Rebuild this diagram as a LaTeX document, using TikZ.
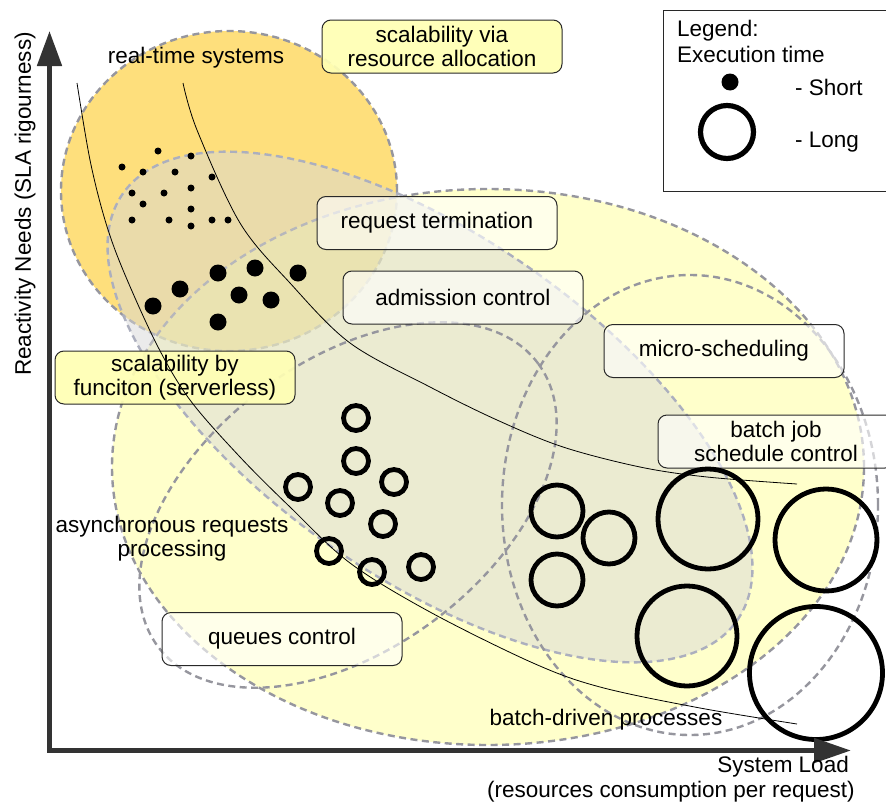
\documentclass[tikz,border=0pt]{standalone}
\usepackage{fontspec}
\setmainfont{Liberation Sans}
\usetikzlibrary{arrows.meta}

\definecolor{rtorange}{RGB}{254,223,124}
\definecolor{scaleyellow}{RGB}{255,255,153}
\definecolor{regiongray}{RGB}{216,216,216}
\definecolor{edgegray}{RGB}{150,150,158}
\definecolor{softedge}{RGB}{172,175,190}
\definecolor{axisgray}{RGB}{51,51,51}
\definecolor{tagyellow}{RGB}{255,255,180}
\definecolor{boxedge}{RGB}{40,40,40}

\tikzset{
  zone/.style={draw=edgegray, line width=2.4pt, dash pattern=on 7pt off 4.5pt},
  labelbox/.style={draw=boxedge, line width=1pt, rounded corners=9pt,
    fill=white, fill opacity=0.6, text opacity=1,
    minimum width=240pt, minimum height=53pt, inner sep=0pt, align=center},
  yellowbox/.style={labelbox, fill=tagyellow, fill opacity=0.92, text opacity=1},
  txt/.style={inner sep=0pt, align=center},
  shortdot/.style={circle, fill=black, inner sep=0pt, minimum size=7pt},
  middot/.style={circle, fill=black, inner sep=0pt, minimum size=17pt},
  jobring/.style={circle, draw=black, line width=4.8pt, inner sep=0pt},
  bound/.style={draw=black, line width=0.8pt},
  axisline/.style={draw=axisgray, line width=5pt,
    {Triangle[length=35pt,width=24pt]}-{Triangle[length=37pt,width=24pt]}},
}

\begin{document}
\begin{tikzpicture}[x=1pt, y=-1pt, font=\fontsize{22.5}{24}\selectfont]
\useasboundingbox (0,0) rectangle (886,803);
\clip (0,0) rectangle (886,803);
\fill[white] (0,0) rectangle (886,803);

% overlapping regions
\draw[zone, fill=rtorange] (229,191) ellipse [x radius=168pt, y radius=160pt];
\draw[zone, fill=scaleyellow, fill opacity=0.5] (488,467) ellipse [x radius=376pt, y radius=278pt];
\draw[zone, draw=softedge, fill=regiongray, fill opacity=0.5, rotate around={-34.75:(430,407)}]
  (430,407) ellipse [x radius=374pt, y radius=171pt];
\draw[zone, rotate around={36.7:(348,505)}] (348,505) ellipse [x radius=237pt, y radius=144pt];
\draw[zone] (690,505) ellipse [x radius=188pt, y radius=230pt];

% region labels
\node[yellowbox] (scalealloc) at (442,46.5) {scalability via\\resource allocation};
\node[labelbox] (reqterm) at (437,223) {request termination};
\node[labelbox] (admit) at (463,297.5) {admission control};
\node[labelbox] (micro) at (724,351) {micro-scheduling};
\node[labelbox, minimum width=236pt] (batchjob) at (776,441.5) {batch job\\schedule control};
\node[labelbox] (queues) at (282,639) {queues control};
\node[yellowbox] (serverless) at (175,377.5) {scalability by\\funciton (serverless)};

\node[txt, anchor=base] (realtime) at (196,63) {real-time systems};
\node[txt] (async) at (172,539) {asynchronous requests\\processing};
\node[txt, anchor=base] (batchdriven) at (606,725) {batch-driven processes};

% boundary curves
\draw[bound] plot[smooth, tension=0.55] coordinates {(77,83) (90,160) (105,220) (123,270) (157,345)
  (190,400) (240,457) (290,507) (350,563) (430,612) (533,663) (600,687) (700,708) (797,724)};
\draw[bound] plot[smooth, tension=0.55] coordinates {(183,83) (197,130) (240,223) (290,283) (350,343)
  (430,387) (497,420) (563,447) (640,467) (707,477) (797,484)};

% short jobs
\foreach \x/\y [count=\i] in {158/151,191/156,122/167,143/172,175/172,212/177,132/193,164/193,
  191/188,143/204,191/209,132/220,169/220,212/220,228/220,191/226}
  \node[shortdot] (sd\i) at (\x,\y) {};
\foreach \x/\y [count=\i] in {153/306,180/289,218/273,255/268,298/273,239/295,271/300,218/322}
  \node[middot] (md\i) at (\x,\y) {};

% longer jobs
\foreach \x/\y [count=\i] in {356/418,356/461,298/487,394/482,340/503,383/524,329/551,372/572,421/567}
  \node[jobring, minimum size=25pt] (mr\i) at (\x,\y) {};
\foreach \x/\y/\d [count=\i] in {557/511/52,609/538/52,557/580/52,708/519/100,826/540/102,687/636/100,816/673/133}
  \node[jobring, minimum size=\d pt] (lr\i) at (\x,\y) {};

% legend
\node[draw=boxedge, line width=1.4pt, anchor=north west, minimum width=240pt, minimum height=181pt,
  inner sep=0pt] (legend) at (663,10) {};
\node[txt, anchor=base west] (legtitle) at (677,36) {Legend:};
\node[txt, anchor=base west] (legsub) at (677,62) {Execution time};
\node[middot] (legdot) at (730,82) {};
\node[jobring, minimum size=53pt, line width=5.2pt] (legring) at (727,132) {};
\node[txt, anchor=base west] (legshort) at (795,95) {- Short};
\node[txt, anchor=base west] (leglong) at (795,147) {- Long};

% axes
\coordinate (ytip) at (49.5,31);
\coordinate (origin) at (49.5,750.5);
\coordinate (xtip) at (851,750.5);
\draw[axisline] (ytip) -- (origin) -- (xtip);
\node[txt, rotate=90] (ylabel) at (25,204) {Reactivity Needs (SLA rigourness)};
\node[txt, anchor=base east] (xlabel) at (849,772) {System Load};
\node[txt, anchor=base east] (xsub) at (855,797) {(resources consumption per request)};
\end{tikzpicture}
\end{document}
